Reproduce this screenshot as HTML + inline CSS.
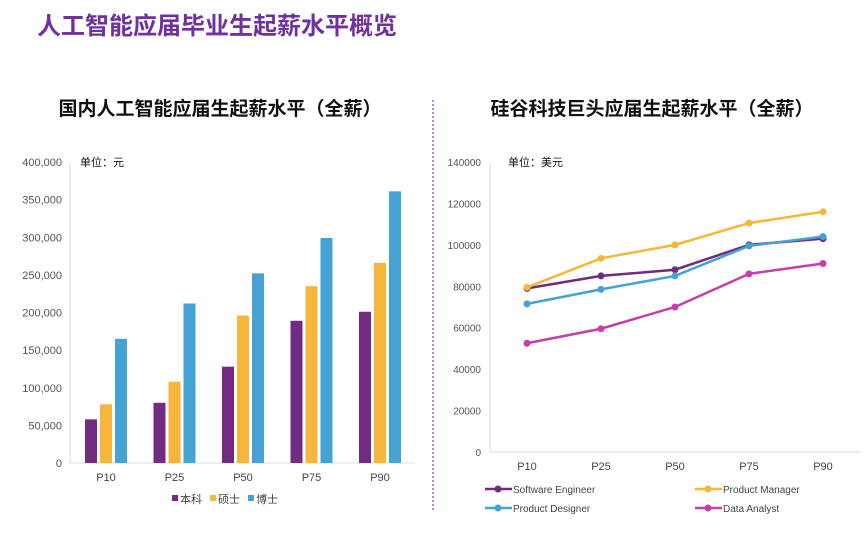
<!DOCTYPE html>
<html><head><meta charset="utf-8"><style>
body{margin:0;background:#fff;width:865px;height:546px;overflow:hidden;font-family:"Liberation Sans","Noto Sans CJK SC",sans-serif;}
</style></head><body>
<svg width="865" height="546" xmlns="http://www.w3.org/2000/svg" font-family="Liberation Sans, Noto Sans CJK SC, sans-serif">
<text x="37" y="34" font-size="24" font-weight="bold" fill="#7030a0">人工智能应届毕业生起薪水平概览</text>
<text x="220" y="115" font-size="19" font-weight="bold" fill="#111" text-anchor="middle">国内人工智能应届生起薪水平（全薪）</text>
<text x="652" y="115" font-size="19" font-weight="bold" fill="#111" text-anchor="middle">硅谷科技巨头应届生起薪水平（全薪）</text>
<line x1="433" y1="100" x2="433" y2="512" stroke="#b98ad0" stroke-width="2" stroke-dasharray="2,2"/>
<g id="left"></g>
<g id="right"></g>
</svg>
<script>
const barCats=["P10","P25","P50","P75","P90"];
const benke=[58000,80000,128000,189000,201000];
const shuoshi=[78000,108000,196000,235000,266000];
const boshi=[165000,212000,252000,299000,361000];
const barTicks=["0","50,000","100,000","150,000","200,000","250,000","300,000","350,000","400,000"];
const lineCats=["P10","P25","P50","P75","P90"];
const seVals=[79000,85000,88000,100000,103000];
const pmVals=[79500,93500,100000,110500,116000];
const pdVals=[71500,78500,85000,99500,104000];
const daVals=[52500,59500,70000,86000,91000];
const lineTicks=["0","20000","40000","60000","80000","100000","120000","140000"];
const NS="http://www.w3.org/2000/svg";
function mk(p,t,a){const e=document.createElementNS(NS,t);for(const k in a)e.setAttribute(k,a[k]);p.appendChild(e);return e;}
// left
const L=document.getElementById('left');
const ly=v=>463-v/400000*301, lx=i=>106+i*68.5;
mk(L,'line',{x1:70,y1:162,x2:70,y2:463,stroke:'#ddd'});
mk(L,'line',{x1:70,y1:463,x2:415,y2:463,stroke:'#ddd'});
barTicks.forEach((t,i)=>{const e=mk(L,'text',{x:62,y:ly(i*50000)+4,'font-size':11,fill:'#555','text-anchor':'end'});e.textContent=t;

});
const lu=mk(L,'text',{x:80,y:166,'font-size':11,fill:'#111'});lu.textContent='单位：元';


const bs=[[benke,'#722b80'],[shuoshi,'#f6b63c'],[boshi,'#45a2d5']];
barCats.forEach((c,i)=>{
 bs.forEach(([arr,col],j)=>{const r=mk(L,'rect',{x:lx(i)-21+j*15,y:ly(arr[i]),width:12,height:463-ly(arr[i]),fill:col});
 
 });
 const t=mk(L,'text',{x:lx(i),y:481,'font-size':11,fill:'#444','text-anchor':'middle'});t.textContent=c;
 
 
});
[['本科','#722b80',172],['硕士','#f6b63c',210],['博士','#45a2d5',248]].forEach(([n,c,x])=>{
 const g=mk(L,'g',{});
 
 
 mk(g,'rect',{x:x,y:495,width:6,height:6,fill:c});
 const t=mk(g,'text',{x:x+8,y:503,'font-size':11,fill:'#444'});t.textContent=n;});
// right
const R=document.getElementById('right');
const ry=v=>452-v/140000*290, rx=i=>527+i*74;
mk(R,'line',{x1:490,y1:162,x2:490,y2:452,stroke:'#ddd'});
mk(R,'line',{x1:490,y1:452,x2:860,y2:452,stroke:'#ddd'});
lineTicks.forEach((t,i)=>{const e=mk(R,'text',{x:481,y:ry(i*20000)+4,'font-size':10,fill:'#555','text-anchor':'end'});e.textContent=t;

});
const ru=mk(R,'text',{x:508,y:166,'font-size':11,fill:'#111'});ru.textContent='单位：美元';


lineCats.forEach((c,i)=>{const t=mk(R,'text',{x:rx(i),y:470,'font-size':11,fill:'#444','text-anchor':'middle'});t.textContent=c;

});
const series=[[seVals,'#722b80','Software Engineer',485,489],[pmVals,'#f6b63c','Product Manager',695,489],[daVals,'#c63fa8','Data Analyst',695,508],[pdVals,'#45a2d5','Product Designer',485,508]];
series.forEach(([arr,col,name,lgx,lgy])=>{
 const g=mk(R,'g',{});
 
 
 mk(g,'polyline',{points:arr.map((v,i)=>rx(i)+','+ry(v)).join(' '),fill:'none',stroke:col,'stroke-width':2.5});
 arr.forEach((v,i)=>mk(g,'circle',{cx:rx(i),cy:ry(v),r:3.5,fill:col}));
 const lg=mk(R,'g',{});
 
 
 mk(lg,'line',{x1:lgx,y1:lgy,x2:lgx+27,y2:lgy,stroke:col,'stroke-width':2.5});
 mk(lg,'circle',{cx:lgx+13,cy:lgy,r:3.5,fill:col});
 const t=mk(lg,'text',{x:lgx+28,y:lgy+4,'font-size':10,fill:'#444'});t.textContent=name;
});
</script>
</body></html>
